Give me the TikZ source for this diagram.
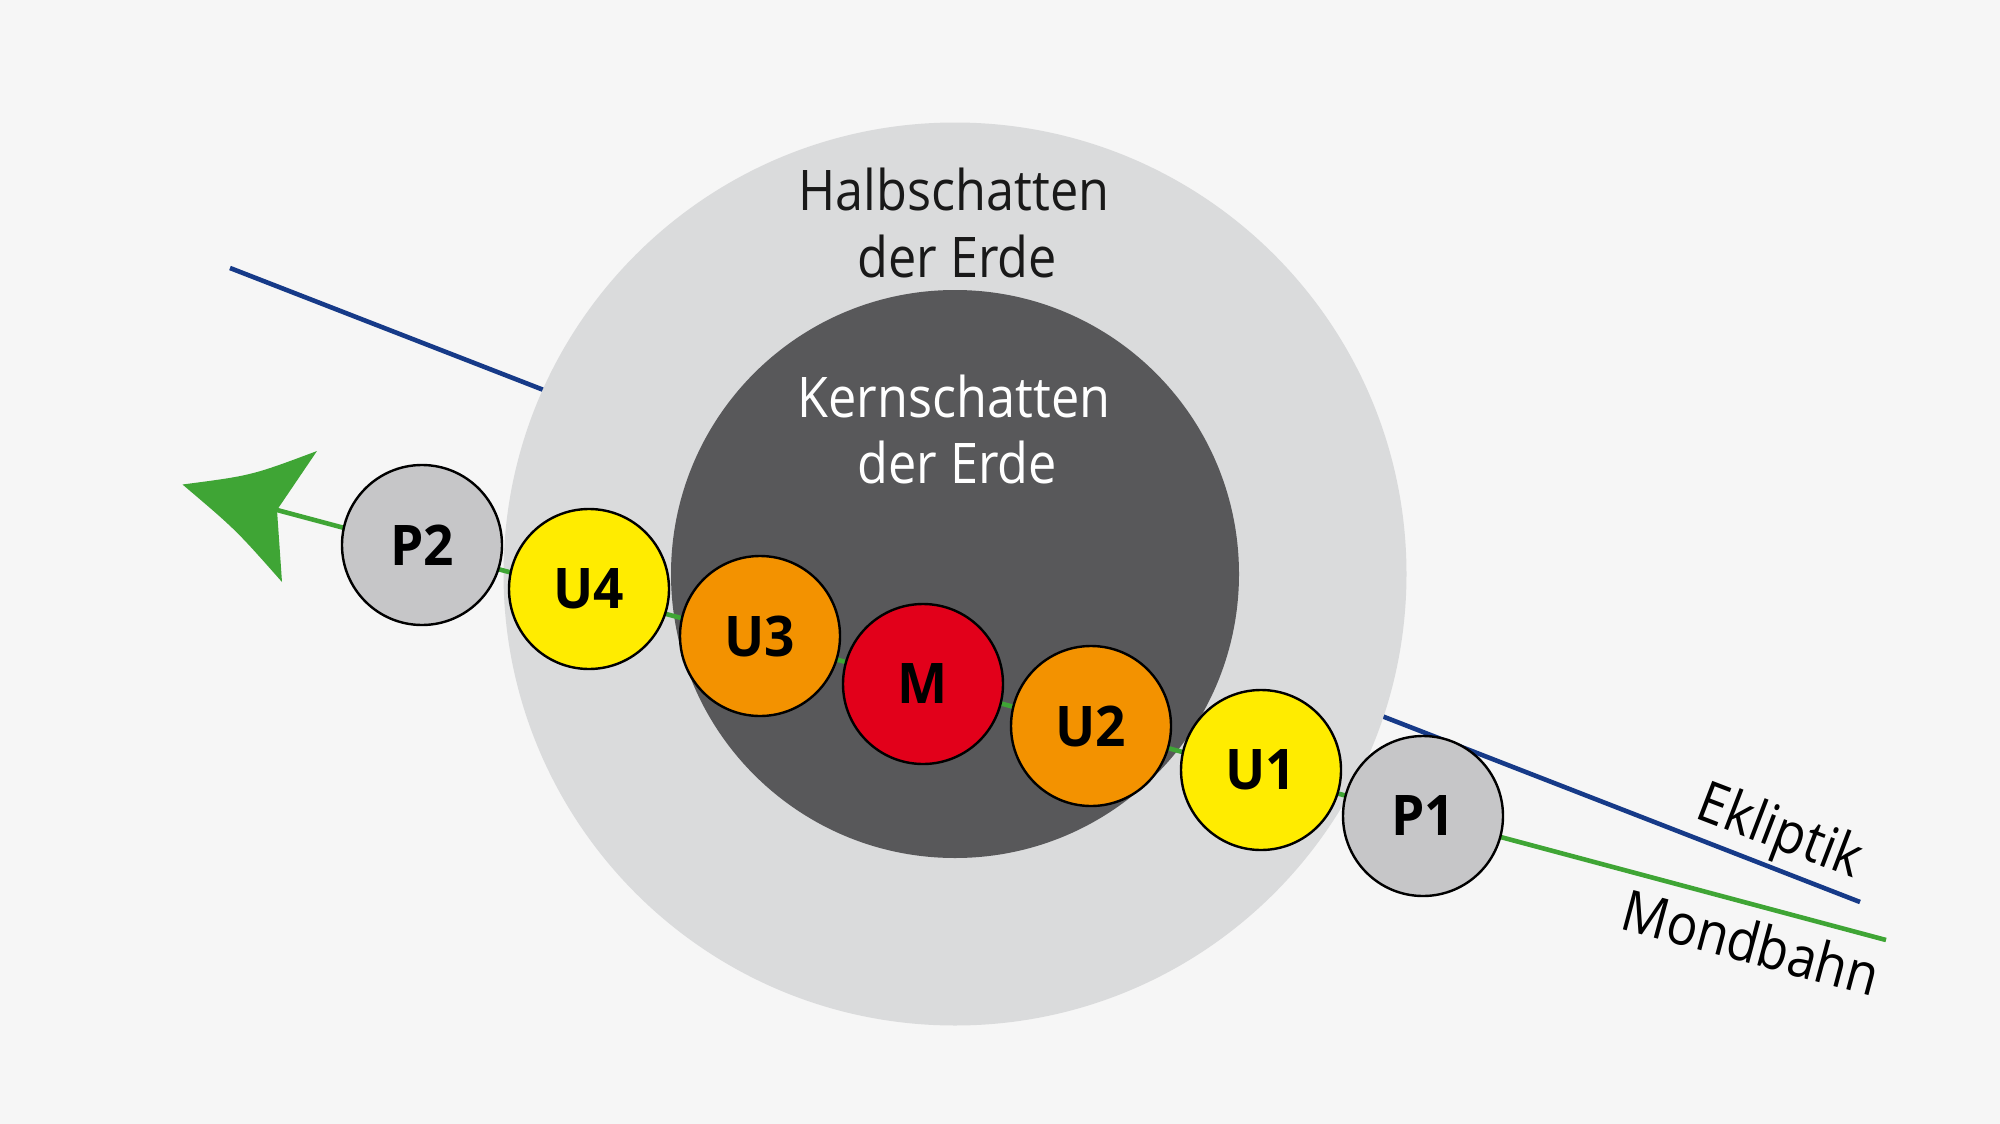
\documentclass[tikz,border=0pt]{standalone}
\usepackage{fontspec}
\setmainfont{Open Sans}[FakeStretch=0.9]
\newfontfamily\lblfont{Open Sans}[FakeStretch=0.95]
\definecolor{bg}{HTML}{F6F6F6}
\definecolor{halb}{HTML}{DADBDC}
\definecolor{kern}{HTML}{58585A}
\definecolor{pgray}{HTML}{C6C6C8}
\definecolor{uyel}{HTML}{FFEC00}
\definecolor{uora}{HTML}{F39200}
\definecolor{mred}{HTML}{E2001A}
\definecolor{mgreen}{HTML}{3FA535}
\definecolor{eblue}{HTML}{163A88}
\tikzset{
  phase/.style={circle, draw=black, line width=2.4pt, minimum size=160pt, inner sep=0pt,
     font=\lblfont\bfseries\fontsize{56}{60}\selectfont},
  bigtext/.style={anchor=base, inner sep=0pt, font=\fontsize{56}{67}\selectfont},
  linelabel/.style={inner sep=0pt, font=\fontsize{57}{60}\selectfont},
}
\begin{document}
\begin{tikzpicture}[x=1pt,y=-1pt]
\fill[bg] (0,0) rectangle (2000,1124);
\useasboundingbox (0,0) rectangle (2000,1124);
% ecliptic
\coordinate (eklA) at (230,268);
\coordinate (eklB) at (1860,902);
\draw[eblue, line width=4.6pt] (eklA) -- (eklB);
% shadows
\node[circle, fill=halb, minimum size=903pt, inner sep=0pt] (halbschatten) at (955,574) {};
\node[circle, fill=kern, minimum size=568pt, inner sep=0pt] (kernschatten) at (955,574) {};
\node[bigtext, text=black!90] (h1) at (954,210) {Halbschatten};
\node[bigtext, text=black!90] (h2) at (957,277) {der Erde};
\node[bigtext, text=white] (k1) at (954,417) {Kernschatten};
\node[bigtext, text=white] (k2) at (957,483) {der Erde};
% moon orbit
\coordinate (mondEnd) at (1886,940);
\coordinate (notch) at (277,510);
\draw[mgreen, line width=4.6pt] (mondEnd) -- (notch);
\fill[mgreen] (182.5,484.5) .. controls (251.7,475.5) .. (317,451)
   -- (notch) -- (282,582) .. controls (235.8,529.7) .. (182.5,484.5) -- cycle;
% moon positions
\node[phase, fill=pgray] (P2) at (422,545) {P2};
\node[phase, fill=uyel]  (U4) at (589,589) {U4};
\node[phase, fill=uora]  (U3) at (760,636) {U3};
\node[phase, fill=mred]  (M)  at (923,684) {M};
\node[phase, fill=uora]  (U2) at (1091,726) {U2};
\node[phase, fill=uyel]  (U1) at (1261,770) {U1};
\node[phase, fill=pgray] (P1) at (1423,816) {P1};
% labels
\node[linelabel, rotate=-21] (ekl) at (1779,834) {Ekliptik};
\node[linelabel, rotate=-15] (mond) at (1751,942) {Mondbahn};
\end{tikzpicture}
\end{document}
